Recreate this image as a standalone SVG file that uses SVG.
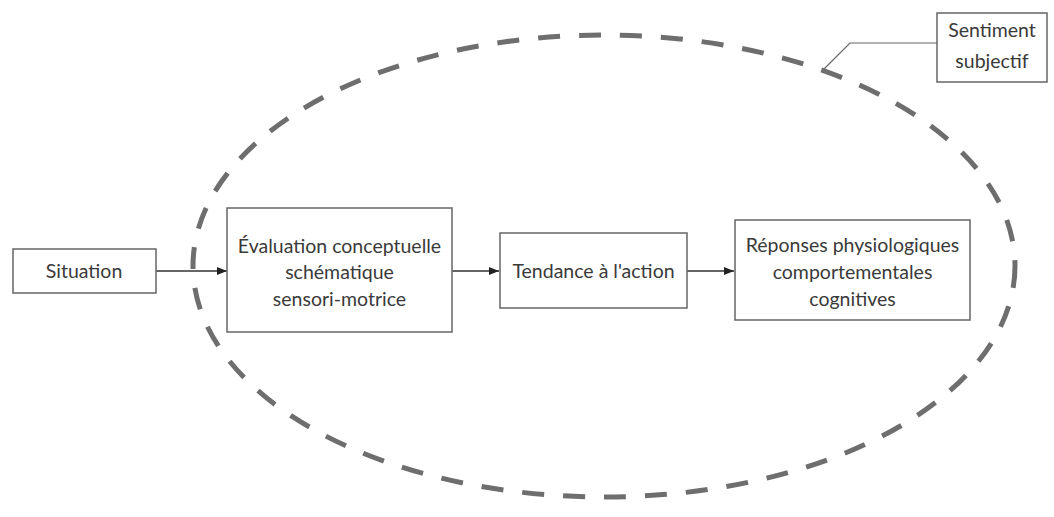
<svg xmlns="http://www.w3.org/2000/svg" width="1054" height="517" viewBox="0 0 1054 517">
<style>
.box{fill:#fff;stroke:#666;stroke-width:1.5}
.t{font-family:Lato,"Liberation Sans",sans-serif;font-size:19.5px;fill:#3a3a3a;text-anchor:middle}
.c{stroke:#333;stroke-width:1.3;fill:none}
</style>
<defs>
<marker id="ah" markerWidth="10" markerHeight="8" refX="10" refY="4" orient="auto" markerUnits="userSpaceOnUse">
<path d="M0,0 L10,4 L0,8 Z" fill="#222"/>
</marker>
</defs>
<rect width="1054" height="517" fill="#fff"/>
<g id="ellipse">
<ellipse cx="604" cy="266" rx="411" ry="231" fill="none" stroke="#6e6e6e" stroke-width="5" stroke-dasharray="22 19"/>
</g>
<g id="connectors">
<line class="c" x1="156" y1="271" x2="227" y2="271" marker-end="url(#ah)"/>
<line class="c" x1="452" y1="271" x2="499" y2="271" marker-end="url(#ah)"/>
<line class="c" x1="687" y1="271" x2="734" y2="271" marker-end="url(#ah)"/>
<polyline points="937,43 850,43 824,69" fill="none" stroke="#666" stroke-width="1.2"/>
</g>
<g id="situation">
<rect class="box" x="13" y="249" width="143" height="44"/>
<text class="t" x="84" y="278">Situation</text>
</g>
<g id="evaluation">
<rect class="box" x="227" y="208" width="225" height="124"/>
<text class="t" x="339.5" y="253">Évaluation conceptuelle</text>
<text class="t" x="339.5" y="279">schématique</text>
<text class="t" x="339.5" y="306">sensori-motrice</text>
</g>
<g id="tendance">
<rect class="box" x="500" y="233" width="187" height="75"/>
<text class="t" x="593.5" y="278">Tendance à l'action</text>
</g>
<g id="reponses">
<rect class="box" x="735" y="220" width="235" height="100"/>
<text class="t" x="852.5" y="252">Réponses physiologiques</text>
<text class="t" x="852.5" y="279">comportementales</text>
<text class="t" x="852.5" y="306">cognitives</text>
</g>
<g id="sentiment">
<rect class="box" x="937" y="13" width="110" height="69"/>
<text class="t" x="992" y="37">Sentiment</text>
<text class="t" x="992" y="68">subjectif</text>
</g>
</svg>
